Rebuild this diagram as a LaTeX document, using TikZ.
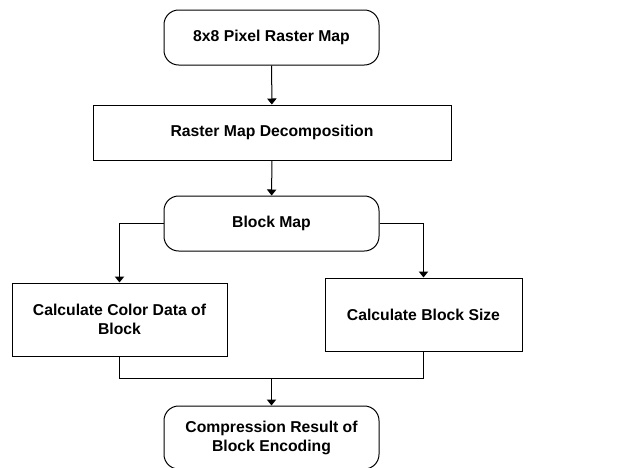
\documentclass[tikz,border=0pt]{standalone}
\usepackage{fontspec}
\setmainfont{Liberation Sans}
\usetikzlibrary{arrows.meta}
\begin{document}
\begin{tikzpicture}[x=0.75pt,y=-0.75pt,
  every node/.style={font=\fontsize{11.8}{14.2}\selectfont\bfseries, align=center, inner sep=0pt, line width=0.75pt},
  term/.style={draw, rounded corners=11pt, minimum width=161.25pt, minimum height=41.25pt},
  proc/.style={draw, minimum height=41.25pt},
  arr/.style={-{Triangle[width=7pt,length=4.5pt]}},
  line width=0.75pt]
\useasboundingbox (0,0) rectangle (626,468);
\node[term] (top) at (271.5,37.5) {8x8 Pixel Raster Map};
\node[proc, minimum width=268.5pt] (dec) at (272,132.5) {Raster Map Decomposition};
\node[term] (bm) at (271.5,223.5) {Block Map};
\node[proc, minimum width=161.25pt, minimum height=54.75pt] (left) at (119.5,319.5) {Calculate Color Data of\\Block};
\node[proc, minimum width=147.75pt, minimum height=54.75pt] (right) at (423.5,314.5) {Calculate Block Size};
\node[term, minimum height=47.25pt] (res) at (271.5,437.5) {Compression Result of\\Block Encoding};
\coordinate (m) at (271.5,378);
\draw[arr] (top) -- (dec);
\draw[arr] (dec) -- (bm);
\draw[arr] (bm.west) -| (left.north);
\draw[arr] (bm.east) -| (right.north);
\draw (left.south) |- (m);
\draw (right.south) |- (m);
\draw[arr] (m) -- (res.north);
\end{tikzpicture}
\end{document}
